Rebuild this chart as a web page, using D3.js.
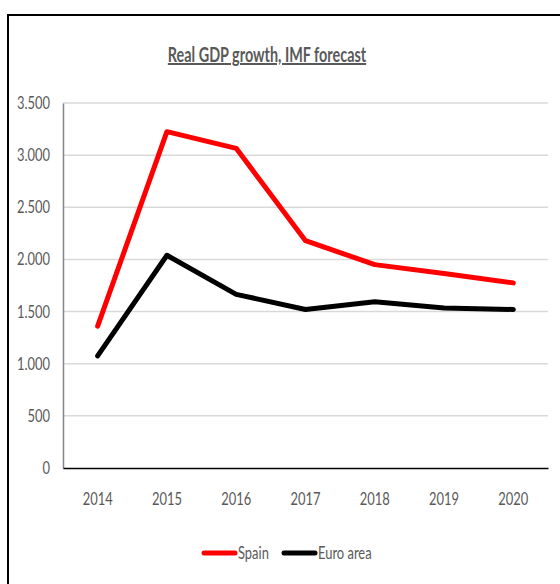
<html>
<head>
<meta charset="utf-8">
<script src="https://cdn.jsdelivr.net/npm/d3@7/dist/d3.min.js"></script>
<style>
body { margin: 0; background: #fff; }
text { font-family: Lato, "Open Sans", sans-serif; fill: #595959; }
</style>
</head>
<body>
<svg width="560" height="584"></svg>
<script>

var years = ["2014", "2015", "2016", "2017", "2018", "2019", "2020"];
var spain = [1360, 3225, 3065, 2180, 1950, 1865, 1775];
var euro  = [1075, 2040, 1665, 1520, 1595, 1535, 1520];
var yTicks = [0, 500, 1000, 1500, 2000, 2500, 3000, 3500];
var seriesNames = ["Spain", "Euro area"];
var seriesColors = ["#ff0000", "#000000"];

var svg = d3.select("svg");

// narrow the glyphs, the source font is a condensed one
function squeeze(sel, f) {
  sel.each(function() {
    var w = this.getComputedTextLength();
    d3.select(this).attr("textLength", w * f).attr("lengthAdjust", "spacingAndGlyphs");
  });
}

// outer chart frame (runs off the right/bottom of the picture)
svg.append("path")
    .attr("d", "M8,600 V15 H580")
    .attr("fill", "none")
    .attr("stroke", "#000")
    .attr("stroke-width", 2);

var x = d3.scaleBand().domain(years).range([63, 548]);
var y = d3.scaleLinear().domain([0, 3500]).range([468, 103]);

var loc = d3.formatLocale({decimal: ",", thousands: ".", grouping: [3], currency: ["", ""]});
var fmt = loc.format(",d");

// gridlines
svg.append("g")
  .selectAll("line")
  .data(yTicks.filter(function(d) { return d > 0; }))
  .enter().append("line")
    .attr("x1", 63).attr("x2", 548)
    .attr("y1", function(d) { return y(d); })
    .attr("y2", function(d) { return y(d); })
    .attr("stroke", "#d9d9d9")
    .attr("stroke-width", 1.5);

// y axis
var yAxis = svg.append("g")
    .attr("transform", "translate(63,0)")
    .call(d3.axisLeft(y).tickValues(yTicks).tickFormat(fmt).tickSize(0).tickPadding(13));
yAxis.select(".domain").attr("stroke", "#868686").attr("stroke-width", 1.5);
yAxis.selectAll("text").style("font-size", "17px").attr("fill", "#595959").call(squeeze, 0.76);

// x axis
var xAxis = svg.append("g")
    .attr("transform", "translate(0,468)")
    .call(d3.axisBottom(x).tickSize(0).tickPadding(25));
xAxis.select(".domain").attr("stroke", "#000").attr("stroke-width", 1.5);
xAxis.selectAll("text").style("font-size", "17px").attr("fill", "#595959").call(squeeze, 0.76);

var line = d3.line()
    .x(function(d, i) { return x(years[i]) + x.bandwidth() / 2; })
    .y(function(d) { return y(d); });

[spain, euro].forEach(function(s, i) {
  svg.append("path")
      .datum(s)
      .attr("d", line)
      .attr("fill", "none")
      .attr("stroke", seriesColors[i])
      .attr("stroke-width", 5)
      .attr("stroke-linecap", "round")
      .attr("stroke-linejoin", "round");
});

// title
svg.append("text")
    .attr("x", 267).attr("y", 62)
    .attr("text-anchor", "middle")
    .style("font-size", "20px")
    .style("font-weight", "bold")
    .style("text-decoration", "underline")
    .text("Real GDP growth, IMF forecast")
    .call(squeeze, 0.72);

// legend
var legendX = [204, 284];
var leg = svg.append("g").selectAll("g")
    .data(seriesNames)
    .enter().append("g")
    .attr("transform", function(d, i) { return "translate(" + legendX[i] + ",553)"; });
leg.append("line")
    .attr("x1", 0).attr("x2", 31)
    .attr("stroke", function(d, i) { return seriesColors[i]; })
    .attr("stroke-width", 5)
    .attr("stroke-linecap", "round");
leg.append("text")
    .attr("x", 34).attr("dy", "0.35em")
    .style("font-size", "17px")
    .text(function(d) { return d; })
    .call(squeeze, 0.76);

</script>
</body>
</html>
